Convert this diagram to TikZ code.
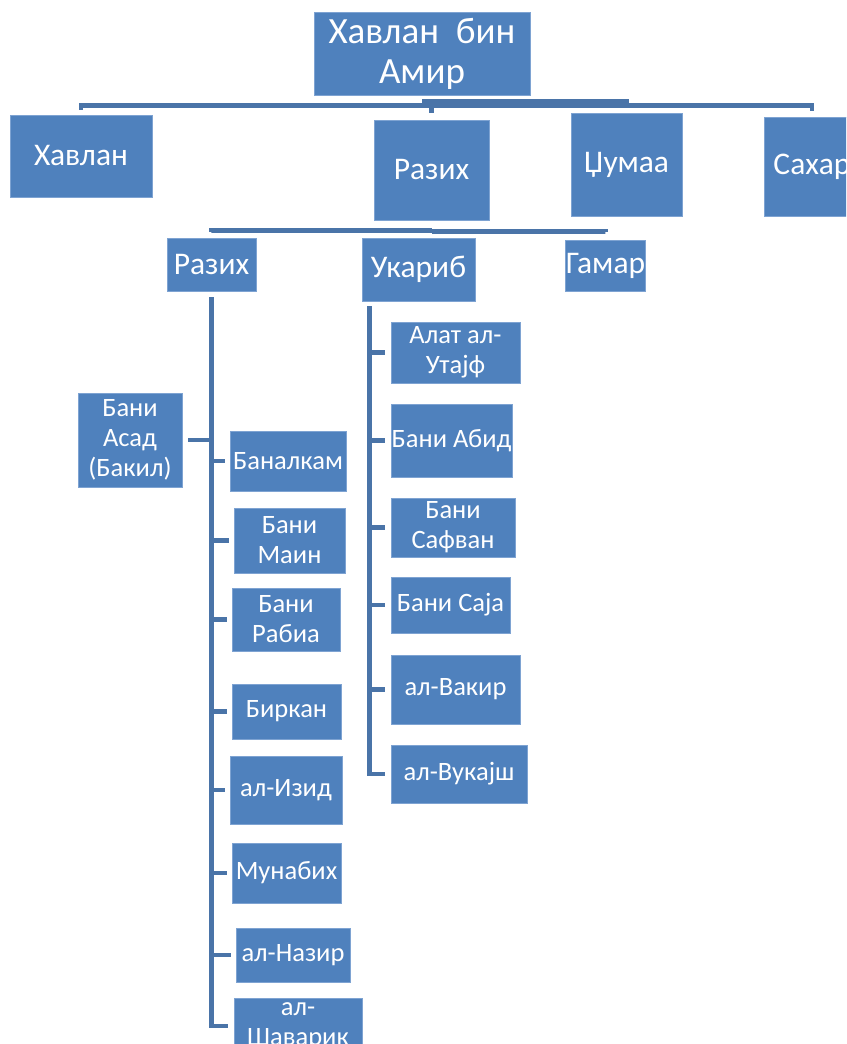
\documentclass[tikz,border=0pt]{standalone}
\usepackage{fontspec}
\setmainfont{Carlito}
\usetikzlibrary{calc}
\definecolor{boxblue}{HTML}{4F81BD}
\definecolor{boxedge}{HTML}{7EA3D2}
\definecolor{linkblue}{HTML}{4A74A8}

\begin{document}
\begin{tikzpicture}[x=1pt, y=-1pt,
  box/.style={fill=boxblue, draw=boxedge, line width=0.8pt, text=white, align=center, inner sep=0pt},
  sz/.style 2 args={minimum width=#1pt, minimum height=#2pt},
  conn/.style={draw=linkblue, line width=4.5pt},
  big/.style={font=\fontsize{37}{40}\selectfont},
  mid/.style={font=\fontsize{31.5}{34}\selectfont},
  small/.style={font=\fontsize{26.5}{30}\selectfont}]

\useasboundingbox (0,0) rectangle (846,1044);
\fill[white] (0,0) rectangle (846,1044);
\clip (0,0) rectangle (846,1044);

% === TOP: root and its four sons ===
\node[box, big, sz={216}{83}] (root) at (422,53.5) {Хавлан\ \ бин\\Амир};
\node[box, mid, sz={142}{82}] (hawlan) at (81,156) {Хавлан};
\node[box, mid, sz={115}{100}] (razih) at (431.5,170) {Разих};
\node[box, mid, sz={111}{103}] (zumaa) at (626.5,164.5) {Џумаа};
\node[box, mid, sz={96}{99}] (sahar) at (812,166.5) {Сахар};

\draw[conn] (root.south) ++(0,10) -| ([yshift=5pt]hawlan.north);
\draw[conn] (root.south) ++(0,10) -| ([yshift=7pt]razih.north);
\draw[conn] (root.south) ++(0,6) -| ([yshift=10pt]zumaa.north);
\draw[conn] (root.south) ++(0,10) -| ([yshift=6pt]sahar.north);

% === MIDDLE: sons of Razih ===
\node[box, mid, sz={89}{53}] (razihB) at (211.5,264.5) {Разих};
\node[box, mid, sz={113}{63}] (ukarib) at (418.5,269.5) {Укариб};
\node[box, mid, sz={75}{51}] (gamar) at (605.5,265.5) {Гамар};

\draw[conn] (razih.south) ++(0,10) -| ([yshift=6pt]razihB.north);
\draw[conn] (razih.south) ++(0,10) -| ([yshift=6pt]ukarib.north);
\draw[conn] (razih.south) ++(0,11) -| ([yshift=8pt]gamar.north);

% === LEFT COLUMN: clans of Razih ===
\node[box, small, sz={104}{94}] (asad) at (130,440) {Бани\\Асад\\(Бакил)};
\node[box, small, sz={116}{60}] (banalkam) at (288,461) {Баналкам};
\node[box, small, sz={111}{65}] (banimain) at (289.5,540.5) {Бани\\Маин};
\node[box, small, sz={108}{63}] (banirabia) at (286,619.5) {Бани\\Рабиа};
\node[box, small, sz={109}{55}] (birkan) at (286.5,711.5) {Биркан};
\node[box, small, sz={112}{68}] (izid) at (286,790) {ал-Изид};
\node[box, small, sz={109}{60}] (munabih) at (286.5,873) {Мунабих};
\node[box, small, sz={114}{54}] (nazir) at (293,955) {ал-Назир};
\node[box, small, sz={128}{56}] (shavarik) at (298,1026) {ал-\\Шаварик};

\draw[conn] ([yshift=-6pt]razihB.south) |- ([xshift=-6pt]shavarik.west);
\foreach \n in {banalkam, banimain, banirabia, birkan, izid, munabih, nazir}
  \draw[conn] (razihB.south |- \n.west) -- ([xshift=-5pt]\n.west);
\draw[conn] ([xshift=6pt]asad.east) -- (asad.east -| razihB.south);

% === RIGHT COLUMN: clans of Ukarib ===
\node[box, small, sz={129}{61}] (alat) at (455.5,352.5) {Алат ал-\\Утајф};
\node[box, small, sz={121}{73}] (abid) at (451.5,440.5) {Бани Абид};
\node[box, small, sz={124}{59}] (safvan) at (453,527.5) {Бани\\Сафван};
\node[box, small, sz={119}{56}] (saja) at (450.5,605) {Бани Саја};
\node[box, small, sz={129}{69}] (vakir) at (455.5,689.5) {ал-Вакир};
\node[box, small, sz={136}{58}] (vukajsh) at (459,774) {ал-Вукајш};

\coordinate (ukstem) at ([xshift=8pt,yshift=-5pt]ukarib.south west);
\draw[conn] (ukstem) |- ([xshift=-6pt]vukajsh.west);
\foreach \n in {alat, abid, safvan, saja, vakir}
  \draw[conn] (ukstem |- \n.west) -- ([xshift=-6pt]\n.west);

\end{tikzpicture}
\end{document}
